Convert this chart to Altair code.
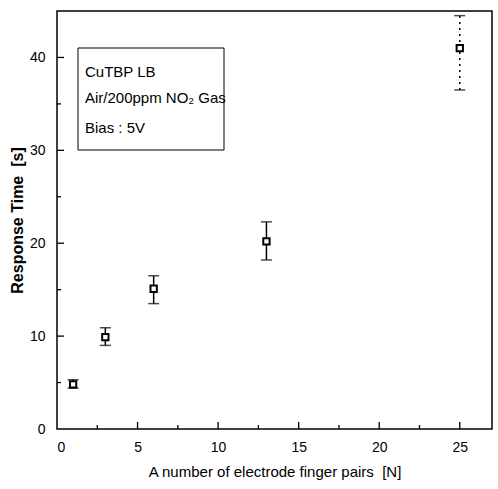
import altair as alt
import pandas as pd

# data
n_pairs = [1, 3, 6, 13, 25]
resp = [4.8, 9.9, 15.1, 20.2, 41.0]
resp_lo = [4.4, 9.0, 13.5, 18.2, 36.5]
resp_hi = [5.3, 10.9, 16.5, 22.3, 44.5]
dotted = [False, False, False, False, True]

x_major = [0, 5, 10, 15, 20, 25]
x_minor = [2.5, 7.5, 12.5, 17.5, 22.5]
y_major = [0, 10, 20, 30, 40]
y_minor = [5, 15, 25, 35]

legend_lines = ["CuTBP LB", "Air/200ppm NO\u2082 Gas", "Bias : 5V"]
x_title = "A number of electrode finger pairs\u00a0\u00a0[N]"
y_title = "Response Time\u00a0\u00a0[s]"

W, H = 435, 418
FONT2 = "'Liberation Sans', Arial, sans-serif"

df = pd.DataFrame({"n": n_pairs, "t": resp, "lo": resp_lo, "hi": resp_hi, "dotted": dotted})

xs = alt.Scale(domain=[0, 27], nice=False, zero=False)
ys = alt.Scale(domain=[0, 45], nice=False)

xaxis = alt.Axis(values=x_major, ticks=False, domain=False, grid=False, labelFontSize=14,
                 labelFont=FONT2, labelPadding=11, labelColor="black",
                 title=x_title, titleFont=FONT2,
                 titleFontSize=15, titleFontWeight="normal", titlePadding=10, titleColor="black")
yaxis = alt.Axis(values=y_major, ticks=False, domain=False, grid=False, labelFontSize=14,
                 labelFont=FONT2, labelPadding=12, labelColor="black",
                 title=y_title, titleFont=FONT2,
                 titleFontSize=16, titleFontWeight="bold", titlePadding=4, titleColor="black")

base = alt.Chart(df)

solid = base.transform_filter("!datum.dotted").mark_rule(color="black", strokeWidth=1.5).encode(
    x=alt.X("n:Q", scale=xs, axis=xaxis), y=alt.Y("lo:Q", scale=ys, axis=yaxis), y2="hi:Q")
dots = base.transform_filter("datum.dotted").mark_rule(color="black", strokeWidth=1.5,
                                                        strokeDash=[2, 4]).encode(
    x=alt.X("n:Q", scale=xs), y=alt.Y("lo:Q", scale=ys), y2="hi:Q")
cap_lo = base.mark_tick(color="black", orient="horizontal", size=11, thickness=1.5).encode(
    x=alt.X("n:Q", scale=xs), y=alt.Y("lo:Q", scale=ys))
cap_hi = base.mark_tick(color="black", orient="horizontal", size=11, thickness=1.5).encode(
    x=alt.X("n:Q", scale=xs), y=alt.Y("hi:Q", scale=ys))
pts = base.mark_point(shape="square", size=40, filled=True, fill="white", stroke="black",
                      strokeWidth=2, opacity=1).encode(
    x=alt.X("n:Q", scale=xs), y=alt.Y("t:Q", scale=ys))

# inward axis ticks
xmaj = alt.Chart(pd.DataFrame({"v": x_major[1:]})).mark_rule(color="black", strokeWidth=1.3).encode(
    x=alt.X("v:Q", scale=xs), y=alt.value(H), y2=alt.value(H - 7))
xmin = alt.Chart(pd.DataFrame({"v": x_minor})).mark_rule(color="black", strokeWidth=1.3).encode(
    x=alt.X("v:Q", scale=xs), y=alt.value(H), y2=alt.value(H - 4))
ymaj = alt.Chart(pd.DataFrame({"v": y_major[1:]})).mark_rule(color="black", strokeWidth=1.3).encode(
    y=alt.Y("v:Q", scale=ys), x=alt.value(0), x2=alt.value(7))
ymin = alt.Chart(pd.DataFrame({"v": y_minor})).mark_rule(color="black", strokeWidth=1.3).encode(
    y=alt.Y("v:Q", scale=ys), x=alt.value(0), x2=alt.value(4))

# annotation box
box = alt.Chart(pd.DataFrame({"a": [0]})).mark_rect(
    fill="white", stroke="black", strokeWidth=1).encode(
    x=alt.value(21), x2=alt.value(167), y=alt.value(37), y2=alt.value(139))
lines = pd.DataFrame({"txt": legend_lines, "px": [28, 28, 28], "py": [61, 87, 117]})
ann = alt.Chart(lines).mark_text(font=FONT2, fontSize=15, align="left", baseline="middle",
                                 color="black").encode(
    text="txt:N", x=alt.X("px:Q", scale=None), y=alt.Y("py:Q", scale=None))

chart = alt.layer(solid, dots, cap_lo, cap_hi, pts, xmaj, xmin, ymaj, ymin, box, ann).properties(
    width=W, height=H,
    autosize=alt.AutoSizeParams(type="none"),
    padding={"left": 57, "top": 11, "right": 6, "bottom": 60},
).configure(background="white").configure_view(stroke="black", strokeWidth=1.5)

chart.save("out.html", embed_options={"renderer": "svg", "actions": False})
